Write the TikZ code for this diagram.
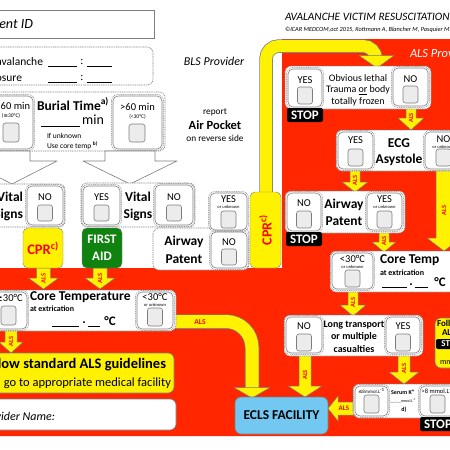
\documentclass[tikz,border=0pt]{standalone}
\usepackage{fontspec}
\setmainfont{Carlito}
\newfontfamily\dejavu{DejaVu Sans}
\definecolor{alsred}{RGB}{255,38,0}
\definecolor{bdgray}{RGB}{125,125,125}
\definecolor{chkfill}{RGB}{236,236,236}
\definecolor{aidgreen}{RGB}{16,130,16}
\definecolor{eclsblue}{RGB}{115,200,242}
\newcommand{\fs}[1]{\fontsize{#1}{#1}\selectfont}
\newcommand{\symle}{{\dejavu\char"2264}}
\newcommand{\symge}{{\dejavu\char"2265}}
\tikzset{
 grp/.style={draw=bdgray, fill=white, dash pattern=on 1pt off 0.8pt, line width=0.6pt, rounded corners=6pt},
 dfrm/.style={draw=bdgray, dash pattern=on 1pt off 0.8pt, line width=0.5pt, rounded corners=6pt},
 obox/.style={draw=bdgray, fill=white, line width=0.6pt, rounded corners=5pt},
 chk/.style={draw=bdgray, fill=chkfill, line width=0.6pt, rounded corners=2.5pt},
 arr/.style={draw=bdgray, fill=yellow, line width=0.5pt, line join=round},
 alst/.style={text=red, font=\bfseries\fs{6.5}},
 stopbox/.style={fill=black, rounded corners=2pt, text=white, font=\bfseries\fs{13}, minimum width=36pt, minimum height=14pt},
 bigarrow/.style={draw=bdgray, fill=white, line width=0.6pt, line join=round},
 bold/.style={font=\bfseries\fs{13.5}},
}
\newcommand{\optbox}[9]{%
 \draw[dfrm] ({#1-1.4},{#2-1.4}) rectangle ({#3+1.4},{#4+1.4});
 \draw[obox] (#1,#2) rectangle (#3,#4);
 \node[font=\fs{10.5}] at ({(#1+#3)/2},#9) {#5};
 \node[font=\fs{4.5}] at ({(#1+#3)/2},{#9+7.5}) {#6};
 \draw[chk] ({(#1+#3)/2-7.5},#7) rectangle ({(#1+#3)/2+7.5},#8);
}
\newcommand{\alsdn}[6]{%
 \draw[arr] ({#1-#5},#2) -- ({#1+#5},#2) -- ({#1+#5},#3) -- ({#1+#6},#3) -- (#1,#4) -- ({#1-#6},#3) -- ({#1-#5},#3) -- cycle;
 \node[alst, rotate=90] at (#1,{(#2+#4)/2}) {ALS};
}
\begin{document}
\begin{tikzpicture}[x=1pt,y=-1pt, every node/.style={inner sep=0pt, outer sep=0pt}]
\useasboundingbox (0,0) rectangle (450,450);
\clip (0,0) rectangle (450,450);
\fill[white] (0,0) rectangle (450,450);
\fill[alsred] (282,39) -- (460,39) -- (460,436) -- (-10,436) -- (-10,268) -- (282,268) -- cycle;

% ---------- header ----------
\draw[bdgray, fill=white, line width=0.8pt] (-10,10) rectangle (154,38);
\node[anchor=east, font=\itshape\fs{14}] (pid) at (33,24) {Patient ID};
\node[anchor=west, font=\itshape\fs{11.3}] (title) at (285,17) {AVALANCHE VICTIM RESUSCITATION CHECKLIST};
\node[anchor=west, font=\itshape\fs{6.3}] (cite) at (285,30) {©ICAR MEDCOM,oct 2015, Kottmann A, Blancher M, Pasquier M, Zafren K, Brugger H};
\node[font=\itshape\fs{12}] (bls) at (214,61) {BLS Provider};
\node[font=\fs{9.3}] (rep) at (215,112) {report};
\node[font=\bfseries\fs{12.5}] (air) at (215,125) {Air Pocket};
\node[font=\fs{9.3}] (rev) at (215,138) {on reverse side};
\node[anchor=west, font=\itshape\fs{12.5}, text=white] (alsp) at (410,53) {ALS Provider};

% ---------- times ----------
\draw[grp] (-10,47) rectangle (153,85);
\node[anchor=east, font=\fs{11.5}] (tav) at (43,62) {Time of avalanche};
\node[anchor=east, font=\fs{11.5}] (tex) at (22,78) {Time of exposure};
\draw[black, line width=0.5pt] (48,66) -- (77,66) (87,66) -- (112,66) (48,82) -- (77,82) (87,82) -- (112,82);
\node[font=\fs{11.5}] (c1) at (82,62) {:};
\node[font=\fs{11.5}] (c2) at (82,78) {:};

% ---------- burial ----------
\draw[grp] (-20,92) rectangle (165,151);
\draw[dfrm] (-12.4,94.6) rectangle (34.4,150.4);
\draw[obox] (-11,96) rectangle (33,149);
\node[font=\fs{10.5}] (b1) at (11,106) {\symle60 min};
\node[font=\fs{5.5}] (b1s) at (11,116) {(\symge30°C)};
\draw[chk] (3,123) rectangle (19,142);
\draw[dfrm] (111.6,94.6) rectangle (163.4,150.4);
\draw[obox] (113,96) rectangle (162,149);
\node[font=\fs{10.5}] (b2) at (137.5,107) {>60 min};
\node[font=\fs{5.5}] (b2s) at (137.5,117) {(<30°C)};
\draw[chk] (129,124) rectangle (145,142);
\node[font=\bfseries\fs{13.5}] (burial) at (73,104) {Burial Time\textsuperscript{a)}};
\draw[black, line width=0.6pt] (41,126) -- (80,126);
\node[font=\fs{14}] (min) at (93,120) {min};
\node[anchor=west, font=\fs{7.5}] (unk) at (47,136) {If unknown};
\node[anchor=west, font=\fs{7.5}] (uct) at (47,146) {Use core temp \textsuperscript{\bfseries b)}};

% ---------- big white arrows ----------
\draw[bigarrow] (-6,151) -- (30,151) -- (30,161) -- (57,161) -- (12,184) -- (-33,161) -- (-6,161) -- cycle;
\draw[bigarrow] (105,151) -- (155,151) -- (155,161) -- (177,161) -- (130,184) -- (83,161) -- (105,161) -- cycle;

% ---------- yellow bands ----------
\draw[bdgray, line width=13.5pt, rounded corners=13pt] (266,200) -- (266,46) -- (376,46) -- (376,57);
\draw[yellow, line width=12pt, rounded corners=13pt] (266,200) -- (266,46) -- (376,46) -- (376,58);
\draw[arr] (359,55.5) -- (394,55.5) -- (377,68) -- cycle;
\draw[bdgray, line width=14.5pt, rounded corners=26pt] (170,321.5) -- (252,321.5) -- (252,388);
\draw[yellow, line width=13pt, rounded corners=26pt] (170,321.5) -- (252,321.5) -- (252,389);
\draw[arr] (234,387.5) -- (270,387.5) -- (252,398) -- cycle;
\node[alst, font=\bfseries\fs{7.5}] (alsb) at (200,322) {ALS};

% ---------- ALS arrows ----------
\alsdn{43.5}{268}{278}{289}{7}{15}
\alsdn{100}{268}{278}{289}{7}{15}
\alsdn{11}{330}{342}{353}{6}{12}
\alsdn{411}{106}{118}{130}{5}{13}
\alsdn{355}{169}{182}{192}{5}{13}
\alsdn{444}{170}{238}{251}{8}{17}
\alsdn{384}{230}{242}{252}{5}{12}
\alsdn{353}{289}{305}{316}{5}{13}
\alsdn{305}{353}{386}{397}{6}{17}
\alsdn{404}{353}{372}{384}{6}{15}
\draw[arr] (356,402) -- (338,402) -- (338,396) -- (328,408.5) -- (338,421) -- (338,415) -- (356,415) -- cycle;
\node[alst, font=\bfseries\fs{7}] (alsk) at (344,408.5) {ALS};

% ---------- BLS vital signs ----------
\draw[grp] (-10,184) rectangle (65,227);
\node[anchor=east, bold] (v1) at (23,197) {Vital};
\node[anchor=east, bold] (s1) at (23,215) {Signs};
\optbox{27}{186}{63}{225}{NO}{}{205}{221}{197}
\draw[grp] (81,183) rectangle (195,227);
\optbox{83}{186}{120}{225}{YES}{}{205}{221}{197}
\node[bold] (v2) at (138,197) {Vital};
\node[bold] (s2) at (138,215) {Signs};
\optbox{155}{185}{193}{225}{NO}{}{205}{221}{197}
\node[draw=bdgray, fill=yellow, rounded corners=5pt, minimum width=40pt, minimum height=40pt, text=red, font=\bfseries\fs{14.5}] (cpr1) at (43,248) {CPR\textsuperscript{c)}};
\node[draw=bdgray, fill=aidgreen, rounded corners=5pt, minimum width=40pt, minimum height=40pt, text=white, font=\bfseries\fs{13}, align=center] (aid) at (102,248) {FIRST\\[4pt]AID};

% ---------- BLS airway ----------
\draw[grp] (153,228) rectangle (249,270);
\node[bold] (aw1) at (184,242) {Airway};
\node[bold] (pt1) at (184,259) {Patent};
\optbox{210}{193}{247}{230}{YES}{or unknown}{211}{228}{199}
\optbox{211}{232}{247}{268}{NO}{}{249}{265}{242}
\node[draw=bdgray, fill=yellow, rounded corners=5pt, minimum width=31pt, minimum height=76pt] (cpr2) at (265.5,230) {};
\node[rotate=90, text=red, font=\bfseries\fs{14}] (cpr2t) at (265.5,230) {CPR\textsuperscript{c)}};

% ---------- BLS core temperature ----------
\draw[grp] (-10,290) rectangle (176,331);
\optbox{-10}{292}{27}{329}{\symge30°C}{}{306}{325}{298}
\optbox{137}{292}{173}{329}{<30°C}{or unknown}{308}{326}{297}
\node[anchor=west, font=\bfseries\fs{13.5}] (ct1) at (30,297.5) {Core Temperature};
\node[anchor=west, font=\bfseries\fs{8}] (ex1) at (30,309) {at extrication};
\draw[black, line width=0.6pt] (52,326) -- (79,326) (88,326) -- (100,326);
\node[font=\bfseries\fs{13}] (dot1) at (84,323) {.};
\node[font=\bfseries\fs{13}] (deg1) at (110,321) {°C};

% ---------- bottom left ----------
\draw[bdgray, fill=yellow, rounded corners=6pt, line width=0.6pt] (-10,353) rectangle (174,393);
\node[anchor=east, font=\bfseries\fs{14.5}] (fol) at (166,365) {Follow standard ALS guidelines};
\node[anchor=east, font=\fs{12.5}] (gom) at (171,383) {and go to appropriate medical facility};
\draw[bdgray, fill=white, rounded corners=6pt, line width=0.6pt] (-10,399) rectangle (176,430);
\node[anchor=east, font=\itshape\fs{12}] (prov) at (55,416) {Provider Name:};

% ---------- ALS: obvious lethal ----------
\draw[grp] (285,66) rectangle (431,109);
\optbox{288}{69}{322}{107}{YES}{}{87}{104}{80}
\optbox{393}{68}{428}{106}{NO}{}{86}{103}{79}
\node[font=\fs{10}] (ob1) at (358,78) {Obvious lethal};
\node[font=\fs{10}] (ob2) at (358,90) {Trauma \underline{or} body};
\node[font=\fs{10}] (ob3) at (358,101.5) {totally frozen};
\node[stopbox] (stop1) at (305,115) {STOP};

% ---------- ALS: ECG ----------
\draw[grp] (336,130) rectangle (465,171);
\optbox{338}{132}{373}{169}{YES}{}{149}{166}{140}
\optbox{425}{132}{462}{169}{NO}{or unknown}{149}{166}{139}
\node[bold] (ecg) at (399,143) {ECG};
\node[bold] (asy) at (399,160) {Asystole};

% ---------- ALS: airway ----------
\draw[grp] (285,191) rectangle (405,233);
\optbox{287}{193}{321}{231}{NO}{}{211}{228}{203}
\optbox{367}{193}{402}{230}{YES}{or unknown}{211}{228}{199}
\node[bold] (aw2) at (344,205) {Airway};
\node[bold] (pt2) at (344,221) {Patent};
\node[stopbox] (stop2) at (304,239) {STOP};

% ---------- ALS: core temp ----------
\draw[grp] (330,251) rectangle (465,292);
\optbox{332}{253}{373}{289}{<30°C}{or unknown}{270}{287}{259}
\node[anchor=west, font=\bfseries\fs{13.5}] (ct2) at (380,260.5) {Core Temp};
\node[anchor=west, font=\bfseries\fs{8}] (ex2) at (380,273) {at extrication};
\draw[black, line width=0.6pt] (382,287) -- (407,287) (415,287) -- (428,287);
\node[font=\bfseries\fs{13}] (dot2) at (411,285) {.};
\node[font=\bfseries\fs{13}] (deg2) at (440,282.5) {°C};

% ---------- ALS: long transport ----------
\draw[grp] (284,315) rectangle (423,356);
\optbox{286}{317}{322}{353}{NO}{}{334}{351}{326}
\optbox{386}{317}{420}{353}{YES}{}{334}{351}{326}
\node[font=\bfseries\fs{10}] (lt1) at (354,325) {Long transport};
\node[font=\bfseries\fs{10}] (lt2) at (354,337) {or multiple};
\node[font=\bfseries\fs{10}] (lt3) at (354,349) {casualties};

% ---------- right follow box ----------
\draw[bdgray, fill=yellow, rounded corners=6pt, line width=0.6pt] (435,318) rectangle (480,368);
\node[anchor=west, font=\bfseries\fs{9}] (f1) at (437,323) {Follow};
\node[anchor=west, font=\bfseries\fs{9}] (f2) at (442,333) {ALS};
\node[fill=black, rounded corners=2pt, text=white, font=\bfseries\fs{9}, minimum width=30pt, minimum height=10pt, anchor=west] (stop4) at (436,344) {STOP};
\node[anchor=west, font=\fs{8}] (f3) at (440,362) {mmol};

% ---------- ALS: serum K ----------
\draw[grp] (353,384) rectangle (465,418);
\optbox{355}{386}{388}{416}{{\fs{5}\symle8mmol.L\textsuperscript{-1}}}{}{395}{413}{391}
\optbox{420}{386}{455}{416}{{\fs{6.5}>8 mmol.L\textsuperscript{-1}}}{}{395}{413}{391}
\node[font=\bfseries\fs{6}] (sk) at (403,392) {Serum K\textsuperscript{+}};
\node[font=\fs{4}] (skv) at (403,401) {\_\_\_,\_\_mmol.L\textsuperscript{-1}};
\node[font=\bfseries\fs{6}] (skd) at (404,410) {d)};
\node[stopbox] (stop3) at (438,424) {STOP};

% ---------- ECLS ----------
\node[draw=bdgray, fill=eclsblue, rounded corners=6pt, line width=0.6pt, minimum width=93pt, minimum height=37pt, font=\bfseries\fs{13.5}] (ecls) at (281.5,415.5) {ECLS FACILITY};
\end{tikzpicture}
\end{document}
